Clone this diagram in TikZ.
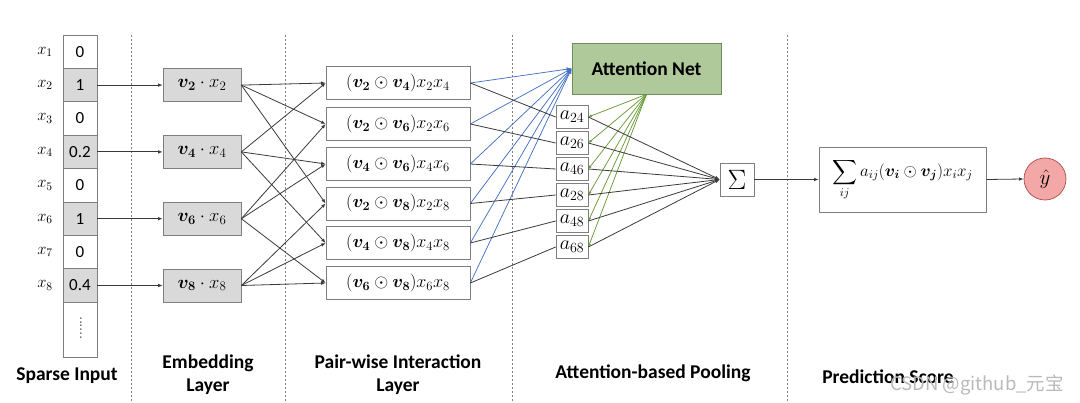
\RequirePackage{fix-cm}
\documentclass[tikz,border=0pt]{standalone}
\usepackage{amsmath}
\usepackage{fontspec}
\setsansfont{Carlito}
\newfontfamily\cjkfont{Noto Sans CJK SC}
\usetikzlibrary{arrows.meta}
\definecolor{linegray}{HTML}{3A3A3A}
\definecolor{boxgray}{HTML}{7F7F7F}
\definecolor{cellfill}{HTML}{D9D9D9}
\definecolor{attfill}{HTML}{AFC99A}
\definecolor{attdraw}{HTML}{6F8F5A}
\definecolor{bluel}{HTML}{4472C4}
\definecolor{greenl}{HTML}{6A9A3A}
\definecolor{yfill}{HTML}{F4A7A7}
\definecolor{ydraw}{HTML}{B04848}
\begin{document}
\begin{tikzpicture}[x=1pt,y=-1pt,
  cell/.style={draw=boxgray, line width=0.7pt, minimum width=34pt, minimum height=33.4pt, inner sep=0pt, font=\sffamily\fontsize{17}{19}\selectfont},
  gcell/.style={cell, fill=cellfill},
  xlab/.style={font=\fontsize{16.5}{18}\selectfont, inner sep=0pt},
  embbox/.style={draw=boxgray, line width=0.7pt, fill=cellfill, minimum width=78pt, minimum height=33pt, inner sep=0pt, font=\fontsize{18.5}{20}\selectfont},
  pairbox/.style={draw=boxgray, line width=0.7pt, fill=white, minimum width=144pt, minimum height=33pt, inner sep=0pt, font=\fontsize{18}{20}\selectfont},
  abox/.style={draw=boxgray, line width=0.7pt, fill=white, minimum width=32pt, minimum height=23pt, inner sep=0pt, font=\fontsize{20}{22}\selectfont},
  conn/.style={draw=linegray, line width=0.8pt},
  arr/.style={conn, -{Latex[length=4.5pt,width=3.5pt]}},
  barr/.style={draw=bluel, line width=0.75pt, -{Latex[length=5pt,width=4pt]}},
  garr/.style={draw=greenl, line width=0.75pt, -{Latex[length=3.5pt,width=3pt]}},
  sepline/.style={draw=gray, line width=0.6pt, dash pattern=on 2pt off 2pt},
  captxt/.style={font=\sffamily\bfseries\fontsize{19.5}{23}\selectfont, align=center, inner sep=0pt}
]
\useasboundingbox (0,0) rectangle (1080,403);

% separators
\foreach \sx in {131,285,512,787} \draw[sepline] (\sx,35) -- (\sx,403);

% sparse input
\node[cell]  (c1) at (80,51.7)  {0};
\node[gcell] (c2) at (80,85.1)  {1};
\node[cell]  (c3) at (80,118.5) {0};
\node[gcell] (c4) at (80,151.9) {0.2};
\node[cell]  (c5) at (80,185.3) {0};
\node[gcell] (c6) at (80,218.7) {1};
\node[cell]  (c7) at (80,252.1) {0};
\node[gcell] (c8) at (80,285.5) {0.4};
\node[cell, minimum height=54.8pt] (cd) at (80,329.6) {};
\node[rotate=90, font=\fontsize{14}{14}\selectfont, inner sep=0pt] (dots) at (81,328) {......};
\foreach \i/\yy in {1/51.7,2/85.1,3/118.5,4/151.9,5/185.3,6/218.7,7/252.1,8/285.5}
  \node[xlab] (l\i) at (45,\yy) {$x_{\i}$};

% embedding
\node[embbox] (e2) at (202,85.1)  {$\boldsymbol{v_2}\cdot x_2$};
\node[embbox] (e4) at (202,151.9) {$\boldsymbol{v_4}\cdot x_4$};
\node[embbox] (e6) at (202,218.7) {$\boldsymbol{v_6}\cdot x_6$};
\node[embbox] (e8) at (202,285.5) {$\boldsymbol{v_8}\cdot x_8$};

% pairwise
\node[pairbox] (p24) at (398,83)    {$(\boldsymbol{v_2}\odot\boldsymbol{v_4})x_2x_4$};
\node[pairbox] (p26) at (398,124)   {$(\boldsymbol{v_2}\odot\boldsymbol{v_6})x_2x_6$};
\node[pairbox] (p46) at (398,164)   {$(\boldsymbol{v_4}\odot\boldsymbol{v_6})x_4x_6$};
\node[pairbox] (p28) at (398,203.5) {$(\boldsymbol{v_2}\odot\boldsymbol{v_8})x_2x_8$};
\node[pairbox] (p48) at (398,243)   {$(\boldsymbol{v_4}\odot\boldsymbol{v_8})x_4x_8$};
\node[pairbox] (p68) at (398,283)   {$(\boldsymbol{v_6}\odot\boldsymbol{v_8})x_6x_8$};

% attention net
\node[draw=attdraw, line width=0.7pt, fill=attfill, minimum width=149pt, minimum height=51pt, inner sep=0pt,
      font=\sffamily\bfseries\fontsize{19.5}{21}\selectfont] (att) at (646.5,68.5) {Attention Net};

% a boxes
\node[abox] (a24) at (572,117) {$a_{24}$};
\node[abox] (a26) at (572,143) {$a_{26}$};
\node[abox] (a46) at (572,169) {$a_{46}$};
\node[abox] (a28) at (572,195) {$a_{28}$};
\node[abox] (a48) at (572,221) {$a_{48}$};
\node[abox] (a68) at (572,247) {$a_{68}$};

% sum and prediction
\node[draw=boxgray, line width=0.7pt, fill=white, minimum width=34pt, minimum height=33pt, inner sep=0pt, font=\fontsize{28}{30}\selectfont] (sig) at (737,179.5) {$\Sigma$};
\node[draw=boxgray, line width=0.7pt, fill=white, minimum width=167pt, minimum height=65pt, inner sep=0pt, font=\fontsize{17}{19}\selectfont] (pred) at (902.5,179.5)
  {$\displaystyle\sum_{ij} a_{ij}(\boldsymbol{v_i}\odot\boldsymbol{v_j})x_ix_j$};
\node[circle, draw=ydraw, line width=0.7pt, fill=yfill, minimum size=42pt, inner sep=0pt, font=\fontsize{21}{23}\selectfont] (yh) at (1045,179) {$\hat{y}$};

% input -> embedding
\foreach \k in {2,4,6,8} \draw[arr] (c\k.east) -- (e\k.west);

% embedding -> pairwise
\foreach \s/\t in {e2/p24,e2/p26,e2/p28,e4/p24,e4/p46,e4/p48,e6/p26,e6/p46,e6/p68,e8/p28,e8/p48,e8/p68}
  \draw[arr] (\s.east) -- (\t.west);

% pairwise -> attention (blue)
\foreach \p in {p24,p26,p46,p28,p48,p68} \draw[barr] (\p.east) -- (att.west);

% pairwise -> a boxes
\foreach \k in {24,26,46,28,48,68} \draw[conn] (p\k.east) -- (a\k.west);

% attention -> a boxes (green)
\foreach \k in {24,26,46,28,48,68} \draw[garr] (att.south) -- (a\k.east);

% a boxes -> sum
\foreach \k in {24,26,46,28,48,68} \draw[arr] (a\k.east) -- (sig.west);

\draw[arr] (sig.east) -- (pred.west);
\draw[arr] (pred.east) -- (yh.west);

% captions
\node[captxt] (t1) at (67,376) {Sparse Input};
\node[captxt] (t2) at (208,375) {Embedding\\Layer};
\node[captxt] (t3) at (398,375) {Pair-wise Interaction\\Layer};
\node[captxt] (t4) at (653,373) {Attention-based Pooling};
\node[captxt] (t5) at (888,377) {Prediction Score};
\node[font=\cjkfont\fontsize{18.5}{20}\selectfont, text=gray!55, inner sep=0pt] (wm) at (977,385) {CSDN @github\_元宝};
\end{tikzpicture}
\end{document}
